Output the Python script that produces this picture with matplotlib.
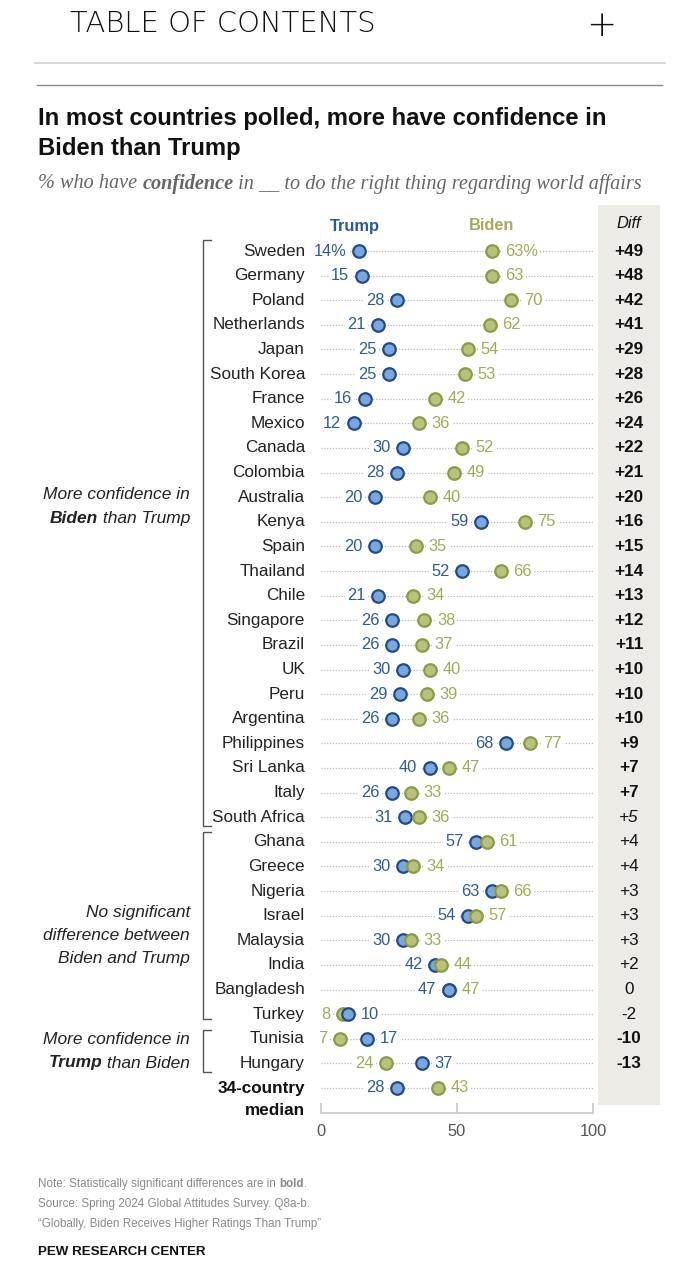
import matplotlib
matplotlib.use("Agg")
import matplotlib.pyplot as plt
from matplotlib.transforms import blended_transform_factory
from matplotlib.patches import Rectangle
from matplotlib.lines import Line2D

plt.rcParams['font.family'] = ['Liberation Sans', 'DejaVu Sans']

countries = ["Sweden", "Germany", "Poland", "Netherlands", "Japan", "South Korea",
             "France", "Mexico", "Canada", "Colombia", "Australia", "Kenya", "Spain",
             "Thailand", "Chile", "Singapore", "Brazil", "UK", "Peru", "Argentina",
             "Philippines", "Sri Lanka", "Italy", "South Africa", "Ghana", "Greece",
             "Nigeria", "Israel", "Malaysia", "India", "Bangladesh", "Turkey",
             "Tunisia", "Hungary", "34-country\nmedian"]
trump = [14, 15, 28, 21, 25, 25, 16, 12, 30, 28, 20, 59, 20, 52, 21, 26, 26, 30, 29, 26,
         68, 40, 26, 31, 57, 30, 63, 54, 30, 42, 47, 10, 17, 37, 28]
biden = [63, 63, 70, 62, 54, 53, 42, 36, 52, 49, 40, 75, 35, 66, 34, 38, 37, 40, 39, 36,
         77, 47, 33, 36, 61, 34, 66, 57, 33, 44, 47, 8, 7, 24, 43]
diff_labels = ["+49", "+48", "+42", "+41", "+29", "+28", "+26", "+24", "+22", "+21", "+20",
               "+16", "+15", "+14", "+13", "+12", "+11", "+10", "+10", "+10", "+9", "+7",
               "+7", "+5", "+4", "+4", "+3", "+3", "+3", "+2", "0", "-2", "-10", "-13", ""]
diff_style = ["bold"] * 23 + ["italic"] + ["normal"] * 8 + ["bold", "bold", "normal"]
x_ticks = [0, 50, 100]

W, H = 700, 1267
fig = plt.figure(figsize=(W / 100, H / 100), dpi=100)
renderer = fig.canvas.get_renderer()

def fx(px):
    return px / W

def fy(py):
    return 1 - py / H

def fit(txt, target_w):
    w = txt.get_window_extent(renderer).width
    txt.set_fontsize(txt.get_fontsize() * target_w / w)
    return txt

trump_fill, trump_edge, trump_txt = '#7ba7de', '#1f4c85', '#2e5c93'
biden_fill, biden_edge, biden_txt = '#b9c27d', '#8c9a45', '#a2aa58'
note_col = '#8a8a8a'

# Diff band (behind everything)
fig.patches.append(Rectangle((fx(598), fy(1105)), fx(660) - fx(598), fy(205) - fy(1105),
                             transform=fig.transFigure, facecolor='#ecebe5',
                             edgecolor='none', zorder=-5))

# Header
t = fig.text(fx(70), fy(24), "TABLE OF CONTENTS", fontsize=18, family=['DejaVu Sans'],
             fontweight='light', va='center', ha='left', color='#111111')
fit(t, 305)
fig.text(fx(601), fy(26), "+", fontsize=26, family=['DejaVu Sans'], fontweight='light',
         va='center', ha='center', color='#111111')
fig.add_artist(Line2D([fx(35), fx(665)], [fy(63), fy(63)], color='#d0d0d0', lw=1.2,
                      transform=fig.transFigure))
fig.add_artist(Line2D([fx(37), fx(662)], [fy(85), fy(85)], color='#8a8a8a', lw=1.0,
                      transform=fig.transFigure))

# Title
t1 = fig.text(fx(38), fy(118), "In most countries polled, more have confidence in", fontsize=17,
              fontweight='bold', va='center', ha='left', color='#111111')
fit(t1, 571)
fig.text(fx(38), fy(149), "Biden than Trump", fontsize=t1.get_fontsize(), fontweight='bold',
         va='center', ha='left', color='#111111')

def text_runs(x_px, y_px, runs, fontsize, family, color, ha='left', target_w=None):
    """runs: list of (text, weight, style)"""
    objs = []
    for t, w, s in runs:
        kw = dict(fontsize=fontsize, fontweight=w, fontstyle=s, color=color,
                  va='center', ha='left')
        if family is not None:
            kw['family'] = family
        objs.append(fig.text(0, fy(y_px), t, **kw))
    widths = [o.get_window_extent(renderer).width for o in objs]
    if target_w is not None:
        sc = target_w / sum(widths)
        for o in objs:
            o.set_fontsize(fontsize * sc)
        widths = [o.get_window_extent(renderer).width for o in objs]
    total = sum(widths)
    cur = x_px if ha == 'left' else x_px - total
    for o, wdt in zip(objs, widths):
        o.set_x(fx(cur))
        cur += wdt

serif = ['Liberation Serif', 'DejaVu Serif']
text_runs(38, 184, [("% who have ", 'normal', 'italic'), ("confidence", 'bold', 'italic'),
                    (" in __ to do the right thing regarding world affairs", 'normal', 'italic')],
          13, serif, '#666666', target_w=603)

# Main axes
top_px, bot_px = 205, 1113
row0, step = 251, (1088 - 251) / 34
ax = fig.add_axes([fx(321), fy(bot_px), fx(593) - fx(321), fy(top_px) - fy(bot_px)])
ax.set_xlim(0, 100)
ax.set_ylim((bot_px - row0) / step, (top_px - row0) / step)
ax.set_facecolor('none')
for s in ['top', 'right', 'left']:
    ax.spines[s].set_visible(False)
ax.spines['bottom'].set_color('#c8c8c8')
ax.spines['bottom'].set_linewidth(1.2)
ax.set_yticks([])
ax.set_xticks(x_ticks)
ax.set_xticklabels([str(t) for t in x_ticks])
ax.tick_params(axis='x', direction='in', length=7, color='#c8c8c8', width=1.2,
               labelsize=11.8, labelcolor='#555555', pad=8)

bt = blended_transform_factory(fig.transFigure, ax.transData)

lbl_fs = 11.8
cty_fs = 12.3
for i, (c, t, b, d, ds) in enumerate(zip(countries, trump, biden, diff_labels, diff_style)):
    y = i
    ax.plot([0, 100], [y, y], linestyle=(0, (1, 1.3)), color='#b8b8b8', lw=0.9, zorder=1)
    t_on_top = t >= b
    ax.plot(b, y, 'o', ms=9, mfc=biden_fill, mec=biden_edge, mew=1.6,
            zorder=4 if not t_on_top else 3)
    ax.plot(t, y, 'o', ms=9, mfc=trump_fill, mec=trump_edge, mew=1.6,
            zorder=4 if t_on_top else 3)
    pct = "%" if i == 0 else ""
    if t <= b:
        left_v, left_c, right_v, right_c = t, trump_txt, b, biden_txt
    else:
        left_v, left_c, right_v, right_c = b, biden_txt, t, trump_txt
    bbox = dict(facecolor='white', edgecolor='none', pad=1.6)
    ax.annotate(f"{left_v}{pct}", (left_v, y), xytext=(-9, 0), textcoords='offset points',
                ha='right', va='center', fontsize=lbl_fs, color=left_c, bbox=bbox, zorder=2)
    ax.annotate(f"{right_v}{pct}", (right_v, y), xytext=(9, 0), textcoords='offset points',
                ha='left', va='center', fontsize=lbl_fs, color=right_c, bbox=bbox, zorder=2)
    if "median" in c:
        ax.text(fx(305), y, "34-country", transform=bt, ha='right', va='center',
                fontsize=cty_fs, fontweight='bold', color='#111111')
        ax.text(fx(305), y + 0.9, "median", transform=bt, ha='right', va='center',
                fontsize=cty_fs, fontweight='bold', color='#111111')
    else:
        ax.text(fx(305), y, c, transform=bt, ha='right', va='center', fontsize=cty_fs,
                color='#222222')
    if d:
        w = 'bold' if ds == 'bold' else 'normal'
        st = 'italic' if ds == 'italic' else 'normal'
        ax.text(fx(629), y, d, transform=bt, ha='center', va='center', fontsize=cty_fs,
                fontweight=w, fontstyle=st, color='#111111', zorder=6)

# Column headers
fig.text(fx(355), fy(226), "Trump", fontsize=11.8, fontweight='bold', color='#2b5a92',
         ha='center', va='center')
fig.text(fx(492), fy(226), "Biden", fontsize=11.8, fontweight='bold', color='#a4ac58',
         ha='center', va='center')
fig.text(fx(629), fy(223), "Diff", fontsize=11.8, fontstyle='italic', color='#111111',
         ha='center', va='center')

# Brackets
def bracket(y0, y1):
    xs = [fx(211), fx(203), fx(203), fx(211)]
    ys = [fy(y0), fy(y0), fy(y1), fy(y1)]
    fig.add_artist(Line2D(xs, ys, color='#555555', lw=1.0, transform=fig.transFigure))

bracket(240, 826)
bracket(832, 1019)
bracket(1030, 1072)

grp_fs = 12.5
grp_col = '#222222'
text_runs(190, 495, [("More confidence in", 'normal', 'italic')], grp_fs, None, grp_col, ha='right')
text_runs(190, 518, [("Biden", 'bold', 'italic'), (" than Trump", 'normal', 'italic')],
          grp_fs, None, grp_col, ha='right')
text_runs(190, 912, [("No significant", 'normal', 'italic')], grp_fs, None, grp_col, ha='right')
text_runs(190, 935, [("difference between", 'normal', 'italic')], grp_fs, None, grp_col, ha='right')
text_runs(190, 958, [("Biden and Trump", 'normal', 'italic')], grp_fs, None, grp_col, ha='right')
text_runs(190, 1040, [("More confidence in", 'normal', 'italic')], grp_fs, None, grp_col, ha='right')
text_runs(190, 1063, [("Trump", 'bold', 'italic'), (" than Biden", 'normal', 'italic')],
          grp_fs, None, grp_col, ha='right')

# Notes
note_fs = 8.4
text_runs(38, 1184, [("Note: Statistically significant differences are in ", 'normal', 'normal'),
                     ("bold", 'bold', 'normal'), (".", 'normal', 'normal')],
          note_fs, None, note_col)
fig.text(fx(38), fy(1204), "Source: Spring 2024 Global Attitudes Survey. Q8a-b.", fontsize=note_fs,
         color=note_col, ha='left', va='center')
fig.text(fx(38), fy(1224), "\u201cGlobally, Biden Receives Higher Ratings Than Trump\u201d",
         fontsize=note_fs, color=note_col, ha='left', va='center')
fig.text(fx(38), fy(1252), "PEW RESEARCH CENTER", fontsize=9.6, fontweight='bold',
         color='#111111', ha='left', va='center')

fig.savefig("out.png", dpi=100, facecolor='white')
